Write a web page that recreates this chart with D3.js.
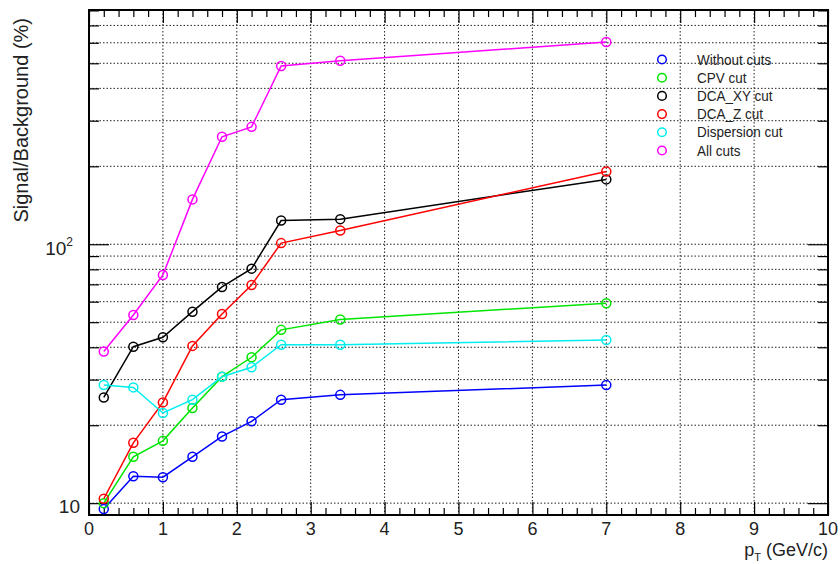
<!DOCTYPE html>
<html>
<head>
<meta charset="utf-8">
<script src="https://cdn.jsdelivr.net/npm/d3@7"></script>
<style>
  body { margin: 0; background: #fff; }
  svg { display: block; font-family: "Liberation Sans", Arial, sans-serif; }
</style>
</head>
<body>
<div id="chart"></div>
<script>
// Signal/Background vs pT for the different cuts (log y)

const pt = [0.2, 0.6, 1.0, 1.4, 1.8, 2.2, 2.6, 3.4, 7.0];

const withoutCuts   = [9.5, 12.7, 12.6, 15.1, 18.1, 20.7, 25.1, 26.2, 28.6];
const cpvCut        = [10.0, 15.1, 17.4, 23.3, 30.8, 36.6, 46.7, 51.2, 59.2];
const dcaXYCut      = [25.6, 40.2, 43.7, 54.9, 68.4, 80.5, 123.5, 125.0, 178];
const dcaZCut       = [10.4, 17.1, 24.5, 40.5, 53.8, 69.6, 101, 113, 191];
const dispersionCut = [28.6, 28.0, 22.3, 25.1, 30.8, 33.5, 40.9, 40.9, 42.7];
const allCuts       = [38.5, 53.3, 76.1, 149, 260, 284, 488, 511, 604];

const seriesNames = ["Without cuts", "CPV cut", "DCA_XY cut", "DCA_Z cut", "Dispersion cut", "All cuts"];
const seriesColors = ["#0000ff", "#00e600", "#000000", "#ff0000", "#00eeee", "#ff00ff"];
const seriesValues = [withoutCuts, cpvCut, dcaXYCut, dcaZCut, dispersionCut, allCuts];

const xTickLabels = ["0", "1", "2", "3", "4", "5", "6", "7", "8", "9", "10"];
const yMajorTicks = [10, 100];
const yMinorTicks = [20, 30, 40, 50, 60, 70, 80, 90, 200, 300, 400, 500, 600, 700, 800];

const W = 840, H = 564;
const box = { left: 89, right: 828, top: 10, bottom: 515 };

const svg = d3.select("#chart")
    .append("svg")
    .attr("width", W)
    .attr("height", H);

svg.append("rect").attr("width", W).attr("height", H).attr("fill", "#fff");

const x = d3.scaleLinear().domain([0, 10]).range([box.left, box.right]);
const y = d3.scaleLog().domain([9.0, 803]).range([box.bottom, box.top]);

// grid
const grid = svg.append("g")
    .attr("stroke", "#222")
    .attr("stroke-width", 1)
    .attr("stroke-dasharray", "1.5,2");

grid.selectAll("line.vx")
    .data(d3.range(1, 10))
    .enter().append("line")
    .attr("x1", d => x(d)).attr("x2", d => x(d))
    .attr("y1", box.top).attr("y2", box.bottom);

grid.selectAll("line.hy")
    .data(yMajorTicks.concat(yMinorTicks))
    .enter().append("line")
    .attr("x1", box.left).attr("x2", box.right)
    .attr("y1", d => y(d)).attr("y2", d => y(d));

// ticks (inward, on all four sides)
const xMinor = d3.range(0, 10.001, 0.2).filter(v => Math.abs(v - Math.round(v)) > 1e-6);
const xMajor = d3.range(0, 11);

function tickAxis(gen, transform) {
    const g = svg.append("g").attr("transform", transform).call(gen);
    g.select(".domain").remove();
    g.selectAll("line").attr("stroke", "#000").attr("stroke-width", 1.2);
    return g;
}

tickAxis(d3.axisBottom(x).tickValues(xMajor).tickSize(-13).tickFormat(""), `translate(0,${box.bottom})`);
tickAxis(d3.axisBottom(x).tickValues(xMinor).tickSize(-7).tickFormat(""), `translate(0,${box.bottom})`);
tickAxis(d3.axisTop(x).tickValues(xMajor).tickSize(-13).tickFormat(""), `translate(0,${box.top})`);
tickAxis(d3.axisTop(x).tickValues(xMinor).tickSize(-7).tickFormat(""), `translate(0,${box.top})`);

tickAxis(d3.axisLeft(y).tickValues(yMajorTicks).tickSize(-20).tickFormat(""), `translate(${box.left},0)`);
tickAxis(d3.axisLeft(y).tickValues(yMinorTicks).tickSize(-10).tickFormat(""), `translate(${box.left},0)`);
tickAxis(d3.axisRight(y).tickValues(yMajorTicks).tickSize(-20).tickFormat(""), `translate(${box.right},0)`);
tickAxis(d3.axisRight(y).tickValues(yMinorTicks).tickSize(-10).tickFormat(""), `translate(${box.right},0)`);

// frame
svg.append("rect")
    .attr("x", box.left).attr("y", box.top)
    .attr("width", box.right - box.left).attr("height", box.bottom - box.top)
    .attr("fill", "none").attr("stroke", "#000").attr("stroke-width", 2);

// x tick labels
svg.selectAll("text.xl")
    .data(xTickLabels)
    .enter().append("text")
    .attr("x", (d, i) => x(i))
    .attr("y", 535)
    .attr("text-anchor", "middle")
    .style("font-size", "18px")
    .attr("fill", "#222")
    .text(d => d);

// y tick labels
svg.append("text")
    .attr("x", 80).attr("y", y(10) + 9.5)
    .attr("text-anchor", "end")
    .style("font-size", "19px")
    .attr("fill", "#222")
    .text("10");

const yl2 = svg.append("text")
    .attr("x", 73).attr("y", y(100) + 10.5)
    .attr("text-anchor", "end")
    .style("font-size", "19px")
    .attr("fill", "#222");
yl2.append("tspan").text("10");
yl2.append("tspan").attr("dy", -9).style("font-size", "12px").text("2");

// axis titles
svg.append("text")
    .attr("transform", "translate(28,18) rotate(-90)")
    .attr("text-anchor", "end")
    .style("font-size", "20px")
    .attr("fill", "#222")
    .text("Signal/Background (%)");

const xt = svg.append("text")
    .attr("x", 828).attr("y", 556)
    .attr("text-anchor", "end")
    .style("font-size", "18px")
    .attr("fill", "#222");
xt.append("tspan").text("p");
xt.append("tspan").attr("dy", 5).style("font-size", "11px").text("T");
xt.append("tspan").attr("dy", -5).text(" (GeV/c)");

// series
const line = d3.line()
    .x((d, i) => x(pt[i]))
    .y(d => y(d));

seriesValues.forEach((vals, k) => {
    const g = svg.append("g");
    g.append("path")
        .attr("d", line(vals))
        .attr("fill", "none")
        .attr("stroke", seriesColors[k])
        .attr("stroke-width", 1.5);
    g.selectAll("circle")
        .data(vals)
        .enter().append("circle")
        .attr("cx", (d, i) => x(pt[i]))
        .attr("cy", d => y(d))
        .attr("r", 4.5)
        .attr("fill", "none")
        .attr("stroke", seriesColors[k])
        .attr("stroke-width", 1.5);
});

// legend
const legend = svg.append("g");
seriesNames.forEach((name, i) => {
    const ly = 59.5 + i * 18.2;
    legend.append("circle")
        .attr("cx", 662).attr("cy", ly).attr("r", 4.3)
        .attr("fill", "none")
        .attr("stroke", seriesColors[i])
        .attr("stroke-width", 1.5);
    legend.append("text")
        .attr("transform", `translate(697,${ly + 5}) scale(0.9,1)`)
        .style("font-size", "15px")
        .attr("fill", "#222")
        .text(name);
});
</script>
</body>
</html>
